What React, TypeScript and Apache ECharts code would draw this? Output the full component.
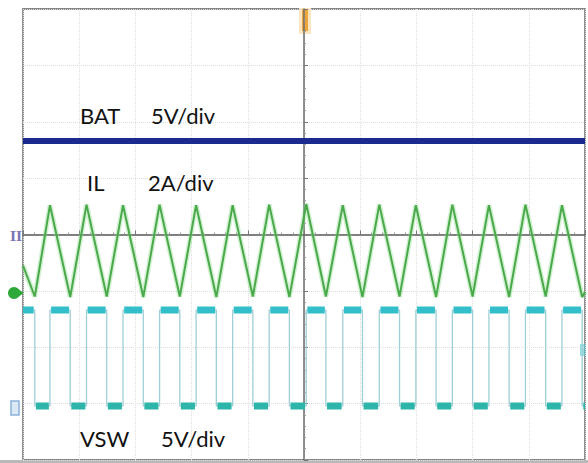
import React, { useEffect, useRef } from "react";
import * as echarts from "echarts";

// Time in divisions (center = 0), amplitude in divisions (center = 0)
const batLevel = 1.66;
const ilStart = -0.55;
const ilEnd = -1.02;
const peakTimes = [-4.52, -3.87, -3.22, -2.57, -1.92, -1.27, -0.62, 0.04, 0.69, 1.34, 1.99, 2.64, 3.29, 3.94, 4.59];
const peakValues = [0.52, 0.53, 0.52, 0.53, 0.52, 0.52, 0.53, 0.54, 0.52, 0.53, 0.52, 0.53, 0.52, 0.53, 0.52];
const troughTimes = [-4.79, -4.16, -3.51, -2.86, -2.21, -1.56, -0.91, -0.26, 0.39, 1.04, 1.7, 2.35, 3.0, 3.65, 4.3, 4.95];
const troughValues = [-1.1, -1.11, -1.1, -1.11, -1.1, -1.11, -1.1, -1.11, -1.1, -1.11, -1.1, -1.11, -1.1, -1.11, -1.1, -1.11];
const vswHigh = -1.34;
const vswLow = -3.04;
const labelNames = ["BAT", "IL", "VSW"];
const labelScales = ["5V/div", "2A/div", "5V/div"];

export default function App() {
  const ref = useRef<HTMLDivElement>(null);
  useEffect(() => {
    if (!ref.current) return;
    const chart = echarts.init(ref.current, null, { renderer: "svg" });

    // IL triangle vertices
    const ilVerts: { t: number; v: number; kind: string }[] = [];
    peakTimes.forEach((t, i) => ilVerts.push({ t, v: peakValues[i], kind: "p" }));
    troughTimes.forEach((t, i) => ilVerts.push({ t, v: troughValues[i], kind: "t" }));
    ilVerts.sort((a, b) => a.t - b.t);
    const ilData: number[][] = [[-5, ilStart]];
    ilVerts.forEach((p) => ilData.push([p.t, p.v]));
    ilData.push([5, ilEnd]);

    // VSW: high from peak to trough, low from trough to peak
    const vswData: number[][] = [];
    const blobHigh: (number[] | null)[] = [];
    const blobLow: (number[] | null)[] = [];
    let level = vswHigh;
    let prevT = -5;
    vswData.push([-5, level]);
    const inset = 0.02;
    const pushBlob = (a: number, b: number, lv: number) => {
      const arr = lv === vswHigh ? blobHigh : blobLow;
      const s = a === -5 ? a : a + inset;
      const e = b === 5 ? b : b - inset;
      if (e > s) {
        arr.push([s, lv]);
        arr.push([e, lv]);
        arr.push(null);
      }
    };
    ilVerts.forEach((p) => {
      const newLevel = p.kind === "p" ? vswHigh : vswLow;
      pushBlob(prevT, p.t, level);
      vswData.push([p.t, level]);
      vswData.push([p.t, newLevel]);
      level = newLevel;
      prevT = p.t;
    });
    pushBlob(prevT, 5, level);
    vswData.push([5, level]);

    const font = "Lato, 'Noto Sans', sans-serif";
    const textEl = (text: string, x: number, y: number) => ({
      type: "text",
      x,
      y,
      silent: true,
      z: 100,
      style: {
        text,
        fill: "#111",
        font: `22px ${font}`,
        align: "left",
        verticalAlign: "middle",
        textAlign: "left",
        textVerticalAlign: "middle",
      },
    });

    chart.setOption({
      animation: false,
      backgroundColor: "#ffffff",
      grid: {
        left: 23,
        right: 3,
        top: 9,
        bottom: 3,
        show: true,
        borderColor: "#858585",
        borderWidth: 1.8,
      },
      xAxis: {
        type: "value",
        min: -5,
        max: 5,
        interval: 1,
        axisLabel: { show: false },
        axisLine: { show: true, onZero: true, lineStyle: { color: "#5a5a5a", width: 1.5 } },
        axisTick: { show: true, inside: true, length: 4, lineStyle: { color: "#777" } },
        minorTick: { show: true, splitNumber: 5, length: 2, lineStyle: { color: "#999" } },
        splitLine: { show: true, lineStyle: { color: "#dedede", type: "dotted", width: 1 } },
      },
      yAxis: {
        type: "value",
        min: -4,
        max: 4,
        interval: 1,
        axisLabel: { show: false },
        axisLine: { show: true, onZero: true, lineStyle: { color: "#6a6a6a", width: 1.5 } },
        axisTick: { show: true, inside: true, length: 4, lineStyle: { color: "#777" } },
        minorTick: { show: true, splitNumber: 5, length: 2, lineStyle: { color: "#999" } },
        splitLine: { show: true, lineStyle: { color: "#dedede", type: "dotted", width: 1 } },
      },
      series: [
        {
          name: "VSW edges",
          type: "line",
          data: vswData,
          symbol: "none",
          silent: true,
          lineStyle: { color: "#9fcfd6", width: 1.3 },
          z: 2,
        },
        {
          name: "VSW high",
          type: "line",
          data: blobHigh,
          symbol: "none",
          connectNulls: false,
          silent: true,
          lineStyle: { color: "#33bfc9", width: 7 },
          z: 3,
        },
        {
          name: "VSW low",
          type: "line",
          data: blobLow,
          symbol: "none",
          connectNulls: false,
          silent: true,
          lineStyle: { color: "#2db5aa", width: 7 },
          z: 3,
        },
        {
          name: "IL halo",
          type: "line",
          data: ilData,
          symbol: "none",
          silent: true,
          lineStyle: { color: "rgba(130,215,130,0.35)", width: 5 },
          z: 4,
        },
        {
          name: "IL",
          type: "line",
          data: ilData,
          symbol: "none",
          silent: true,
          lineStyle: { color: "#4aa94a", width: 2 },
          z: 5,
        },
        {
          name: "BAT",
          type: "line",
          data: [
            [-5, batLevel],
            [5, batLevel],
          ],
          symbol: "none",
          silent: true,
          lineStyle: { color: "#1b2a8e", width: 6 },
          z: 6,
        },
      ],
      graphic: [
        // bottom band
        { type: "rect", shape: { x: 0, y: 460, width: 588, height: 3 }, style: { fill: "#b8b8b8" }, silent: true },
        // trigger marker
        { type: "rect", shape: { x: 299, y: 8, width: 12, height: 26 }, style: { fill: "#fbe6c0" }, silent: true },
        { type: "rect", shape: { x: 302, y: 9, width: 6, height: 22 }, style: { fill: "#eea63a" }, silent: true },
        // channel markers on left
        {
          type: "text",
          x: 10,
          y: 236,
          silent: true,
          style: { text: "II", fill: "#7a74b8", font: "bold 13px 'DejaVu Serif', serif", verticalAlign: "middle", textVerticalAlign: "middle" },
        },
        { type: "circle", shape: { cx: 14, cy: 293, r: 6 }, style: { fill: "#2fa83a" }, silent: true },
        { type: "polygon", shape: { points: [[18, 289], [24, 293], [18, 297]] }, style: { fill: "#2fa83a" }, silent: true },
        { type: "rect", shape: { x: 11, y: 401, width: 8, height: 14 }, style: { fill: "#dbe9f6", stroke: "#8cb4dc", lineWidth: 1.5 }, silent: true },
        // right-edge marker
        { type: "rect", shape: { x: 580, y: 344, width: 6, height: 12 }, style: { fill: "rgba(80,200,205,0.6)" }, silent: true },
        // labels
        textEl(labelNames[0], 80, 115),
        textEl(labelScales[0], 151, 115),
        textEl(labelNames[1], 87, 182),
        textEl(labelScales[1], 148, 182),
        textEl(labelNames[2], 80, 438),
        textEl(labelScales[2], 161, 438),
      ],
    });
    return () => chart.dispose();
  }, []);
  return (
    <div
      ref={ref}
      style={{ position: "fixed", left: 0, top: 0, width: 588, height: 463, background: "#fff" }}
    />
  );
}
